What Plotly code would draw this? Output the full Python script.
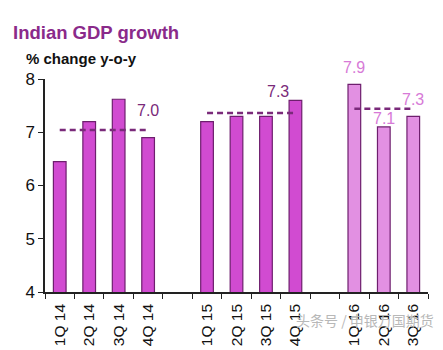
import plotly.graph_objects as go

categories = ["1Q 14", "2Q 14", "3Q 14", "4Q 14", " ",
              "1Q 15", "2Q 15", "3Q 15", "4Q 15", "  ",
              "1Q 16", "2Q 16", "3Q 16"]
q14 = ["1Q 14", "2Q 14", "3Q 14", "4Q 14"]
q15 = ["1Q 15", "2Q 15", "3Q 15", "4Q 15"]
q16 = ["1Q 16", "2Q 16", "3Q 16"]
v14 = [6.45, 7.2, 7.62, 6.9]
v15 = [7.2, 7.3, 7.3, 7.6]
v16 = [7.9, 7.1, 7.3]
avg_vals = [7.04, 7.36, 7.44]
avg_labels = ["7.0", "7.3"]
bar16_labels = ["7.9", "7.1", "7.3"]

dark = "#6e1f6e"
fill_a = "#d14bd1"
fill_b = "#e290e2"
label_dark = "#7a2a7a"
label_light = "#d77ad7"

fig = go.Figure()
fig.add_trace(go.Bar(x=q14 + q15, y=v14 + v15, marker=dict(color=fill_a, line=dict(color=dark, width=1.2)),
                     showlegend=False))
fig.add_trace(go.Bar(x=q16, y=v16, marker=dict(color=fill_b, line=dict(color=dark, width=1.2)),
                     showlegend=False))

for xs, a in zip([q14, q15, q16], avg_vals):
    fig.add_trace(go.Scatter(x=[xs[0], xs[-1]], y=[a, a], mode="lines",
                             line=dict(color=label_dark, width=2.5, dash="6px,4px"),
                             showlegend=False, hoverinfo="skip"))

annotations = []
annotations.append(dict(x="4Q 14", y=avg_vals[0], text=avg_labels[0], showarrow=False,
                        yshift=20, font=dict(size=16, color=label_dark, family="Arial")))
annotations.append(dict(x=7.4, y=avg_vals[1], text=avg_labels[1], showarrow=False,
                        xref="x", yshift=22, font=dict(size=16, color=label_dark, family="Arial")))
for c, v, t in zip(q16, v16, bar16_labels):
    annotations.append(dict(x=c, y=v, text=t, showarrow=False, yshift=17 if t != "7.1" else 8,
                            font=dict(size=16, color=label_light, family="Arial")))

annotations.append(dict(xref="paper", yref="paper", x=-0.09, y=1.22, xanchor="left", yanchor="middle",
                        text="<b>Indian GDP growth</b>", showarrow=False,
                        font=dict(size=18.5, color="#8a2a8a", family="Arial")))
annotations.append(dict(xref="paper", yref="paper", x=-0.055, y=1.097, xanchor="left", yanchor="middle",
                        text="<b>% change y-o-y</b>", showarrow=False,
                        font=dict(size=15, color="#111111", family="Arial")))
annotations.append(dict(xref="paper", yref="paper", x=1.02, y=-0.13, xanchor="right", yanchor="middle",
                        text="头条号 / 申银万国期货", showarrow=False,
                        font=dict(size=14, color="#b8b8b8", family="Noto Sans CJK SC")))

fig.update_layout(
    width=443, height=350,
    margin=dict(l=45, r=15, t=79, b=58),
    paper_bgcolor="white", plot_bgcolor="white",
    bargap=0.57,
    barmode="overlay",
    annotations=annotations,
    font=dict(family="Arial", color="#111111"),
    xaxis=dict(type="category", categoryorder="array", categoryarray=categories,
               range=[-0.5, len(categories) - 0.5], automargin=False,
               showline=True, linecolor="#222222", linewidth=1.5,
               ticks="outside", tickson="boundaries", ticklen=5, tickcolor="#222222",
               ticklabelstandoff=4,
               tickangle=-90, tickfont=dict(size=15.5, color="#111111"), showgrid=False),
    yaxis=dict(range=[4, 8], tickvals=[4, 5, 6, 7, 8], showline=True, linecolor="#222222", linewidth=1.5,
               automargin=False,
               ticks="outside", ticklen=5, tickcolor="#222222", showgrid=False, zeroline=False,
               tickfont=dict(size=17, color="#111111")),
)

fig.write_html("out.html")
